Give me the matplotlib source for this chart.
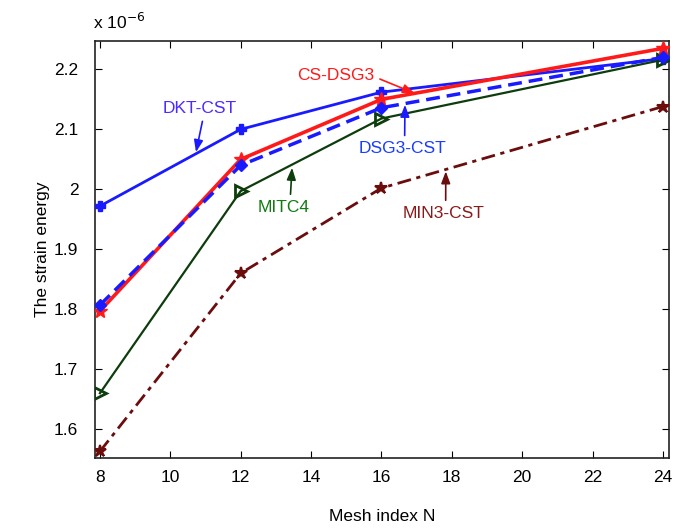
import matplotlib
matplotlib.use("Agg")
import matplotlib.pyplot as plt
from matplotlib.ticker import FormatStrFormatter

# -------------------------------------------
#  Data (strain energy, units of 1e-6)
# -------------------------------------------
mesh_n = [8, 12, 16, 24]
dkt_cst = [1.972, 2.100, 2.162, 2.218]
cs_dsg3 = [1.797, 2.050, 2.150, 2.235]
dsg3_cst = [1.807, 2.040, 2.136, 2.220]
mitc4 = [1.660, 1.997, 2.118, 2.216]
min3_cst = [1.563, 1.860, 2.002, 2.138]

plt.rcParams['font.family'] = ['Liberation Sans', 'DejaVu Sans']
fs = 12.5

fig = plt.figure(figsize=(6.86, 5.28), dpi=100)
ax = fig.add_axes([0.1385, 0.1326, 0.8365, 0.7894])

ax.plot(mesh_n, dkt_cst, color='#1a1aff', lw=2, marker='P', ms=7, zorder=3)
ax.plot(mesh_n, cs_dsg3, color='#ff1a1a', lw=2.6, marker='*', ms=10, zorder=4)
ax.plot(mesh_n, dsg3_cst, color='#1a1aff', lw=2.5, ls='--', dashes=(4, 2),
        marker='D', ms=6, zorder=5)
ax.plot(mesh_n, mitc4, color='#0d3d0d', lw=1.6, marker='>', ms=8,
        mfc='none', mew=2, zorder=3)
ax.plot(mesh_n, min3_cst, color='#6b0d0d', lw=2, ls='-.', dashes=(5, 2, 1.5, 2),
        marker='*', ms=9, mew=1.5, zorder=3)

# labels with arrows
arrow = dict(arrowstyle='-|>,head_width=0.17,head_length=0.45', lw=1.2,
             mutation_scale=16, shrinkA=2, shrinkB=0)
ax.annotate('DKT-CST', xy=(10.73, 2.062), xytext=(10.84, 2.135), color='#4a2cff',
            ha='center', va='center', fontsize=fs,
            arrowprops=dict(arrow, color='#1a1aff', relpos=(0.55, 0)))
ax.annotate('CS-DSG3', xy=(16.95, 2.160), xytext=(14.71, 2.190), color='#ff1a1a',
            ha='center', va='center', fontsize=fs,
            arrowprops=dict(arrow, color='#ff1a1a', relpos=(1, 0.4)))
ax.annotate('DSG3-CST', xy=(16.67, 2.141), xytext=(16.61, 2.068), color='#1a3cff',
            ha='center', va='center', fontsize=fs,
            arrowprops=dict(arrow, color='#1a1aff', relpos=(0.52, 1)))
ax.annotate('MITC4', xy=(13.46, 2.036), xytext=(13.23, 1.970), color='#117a11',
            ha='center', va='center', fontsize=fs,
            arrowprops=dict(arrow, color='#0d3d0d', relpos=(0.62, 1)))
ax.annotate('MIN3-CST', xy=(17.83, 2.030), xytext=(17.78, 1.960), color='#8a1a1a',
            ha='center', va='center', fontsize=fs,
            arrowprops=dict(arrow, color='#6b0d0d', relpos=(0.52, 1)))

ax.set_xlim(7.86, 24.17)
ax.set_ylim(1.552, 2.247)
ax.set_xticks(range(8, 25, 2))
ax.set_yticks([1.6, 1.7, 1.8, 1.9, 2.0, 2.1, 2.2])
ax.yaxis.set_major_formatter(FormatStrFormatter('%g'))
ax.tick_params(direction='in', top=True, right=True, length=5, labelsize=fs)
ax.tick_params(axis='y', pad=12)
ax.tick_params(axis='x', pad=9)
for s in ax.spines.values():
    s.set_linewidth(1.2)
    s.set_color('#222222')

ax.set_xlabel('Mesh index N', fontsize=fs, labelpad=17)
ax.set_ylabel('The strain energy', fontsize=fs, labelpad=3)
fig.text(0.136, 0.945, r'x 10$^{-6}$', fontsize=fs, ha='left', va='baseline')

fig.savefig('out.png', dpi=100)
